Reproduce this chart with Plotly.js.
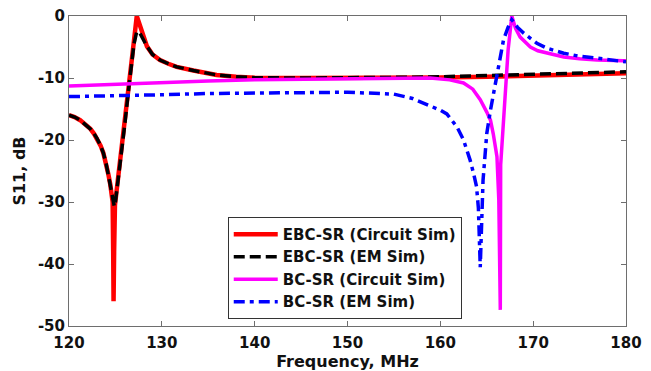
<!DOCTYPE html>
<html>
<head>
<meta charset="utf-8">
<script src="https://cdn.plot.ly/plotly-3.0.1.min.js"></script>
<style>html,body{margin:0;padding:0;background:#fff;}#chart{width:651px;height:371px;}</style>
</head>
<body>
<div id="chart"></div>
<script>
// EBC-SR (Circuit Sim)
var fEbcCirc = [120,120.6,121.2,121.7,122.3,122.7,123.0,123.4,123.7,124.0,124.25,124.45,124.6,124.7,124.76,124.8,124.86,124.95,125.1,125.5,126,126.5,127.0,127.3,127.6,128.0,128.4,129.0,129.8,130.7,131.6,133.4,135.9,138,140,145,150,155,160,165,170,175,180];
var sEbcCirc = [-16,-16.3,-16.8,-17.4,-18.2,-19,-19.7,-20.9,-22.1,-23.8,-25.6,-27.2,-28.4,-30,-38,-46,-38,-30.5,-28.6,-24.3,-17.6,-10.8,-4.0,0,-1.5,-3.3,-4.9,-6.2,-7.1,-7.7,-8.2,-8.8,-9.5,-9.8,-9.95,-10,-10,-9.95,-9.9,-9.8,-9.6,-9.4,-9.25];
// EBC-SR (EM Sim)
var fEbcEm = [120,120.6,121.2,121.7,122.3,122.7,123.0,123.4,123.7,124.0,124.25,124.45,124.6,124.75,124.88,125.0,125.5,126,126.5,127.0,127.3,127.65,128.0,128.4,129.0,129.8,130.7,131.6,133.4,135.9,138,140,145,150,155,160,165,170,175,180];
var sEbcEm = [-16,-16.3,-16.8,-17.4,-18.2,-19,-19.7,-20.9,-22.1,-23.8,-25.6,-27.2,-28.4,-29.8,-30.7,-30,-24.3,-17.6,-10.8,-4.5,-2.5,-2.8,-3.8,-4.9,-6.2,-7.1,-7.7,-8.2,-8.8,-9.5,-9.8,-9.95,-10,-10,-9.9,-9.8,-9.6,-9.4,-9.2,-9.0];
// BC-SR (Circuit Sim)
var fBcCirc = [120,125,130,135,140,145,150,155,158.9,161,162.5,163.5,164.3,165,165.4,165.7,166.1,166.3,166.42,166.46,166.5,167.0,167.3,167.7,168.1,168.6,169.1,169.7,170.5,171.5,173.3,175,176.9,179.7,180];
var sBcCirc = [-11.3,-11.0,-10.7,-10.5,-10.3,-10.2,-10.1,-10.0,-10,-10.3,-10.8,-11.8,-13.5,-15.5,-16.8,-19,-22.7,-29.7,-40,-47.4,-24,-11,-5.5,0,-2,-3.4,-4.2,-5,-5.6,-6,-6.6,-6.9,-7.1,-7.2,-7.2];
// BC-SR (EM Sim)
var fBcEm = [120,125,130,135,140,145,150,155,157,158.9,160,160.7,161.8,162.5,163.2,163.6,163.9,164.1,164.3,164.6,165.0,165.4,166.1,166.8,167.3,167.7,168.3,169,170.4,171.5,173.3,175,176.9,179.7,180];
var sBcEm = [-13,-12.9,-12.7,-12.5,-12.4,-12.3,-12.3,-12.6,-13.3,-14.5,-15.2,-15.8,-17.9,-20,-23.2,-25.5,-27.5,-31,-40.5,-26.5,-19,-15.2,-9.8,-3.9,-1.8,-0.6,-1.8,-2.8,-4.4,-5.2,-6,-6.5,-6.8,-7.4,-7.4];

var seriesNames = ['EBC-SR (Circuit Sim)','EBC-SR (EM Sim)','BC-SR (Circuit Sim)','BC-SR (EM Sim)'];
var xTickVals = [120,130,140,150,160,170,180];
var xTickText = ['120','130','140','150','160','170','180'];
var yTickVals = [0,-10,-20,-30,-40,-50];
var yTickText = ['0','-10','-20','-30','-40','-50'];

var FONT = {family:'DejaVu Sans, Arial, sans-serif', size:15, color:'#111111', weight:'bold'};
var TITLEFONT = {family:'DejaVu Sans, Arial, sans-serif', size:16, color:'#111111', weight:'bold'};

var traces = [
  {x:fEbcCirc, y:sEbcCirc, name:seriesNames[0], mode:'lines', line:{color:'#ff0000', width:4.5}},
  {x:fEbcEm, y:sEbcEm, name:seriesNames[1], mode:'lines', line:{color:'#000000', width:3.5, dash:'11px,5px'}},
  {x:fBcCirc, y:sBcCirc, name:seriesNames[2], mode:'lines', line:{color:'#ff00ff', width:3.5}},
  {x:fBcEm, y:sBcEm, name:seriesNames[3], mode:'lines', line:{color:'#0000ff', width:3.5, dash:'11px,5px,4px,5px'}}
];

var axisCommon = {
  showline:true, linecolor:'#6e6e6e', linewidth:1, mirror:'ticks',
  ticks:'inside', ticklen:5, tickcolor:'#6e6e6e', tickwidth:1,
  showgrid:false, zeroline:false, tickfont:FONT
};

var layout = {
  width:651, height:371,
  margin:{l:69, r:25, t:16, b:45},
  paper_bgcolor:'#ffffff', plot_bgcolor:'#ffffff',
  font:FONT,
  showlegend:true,
  legend:{x:0.285, y:0.352, xanchor:'left', yanchor:'top', bgcolor:'#ffffff', bordercolor:'#333333', borderwidth:1, font:FONT, tracegroupgap:0, itemwidth:44},
  xaxis:Object.assign({}, axisCommon, {range:[120,180], tickmode:'array', tickvals:xTickVals, ticktext:xTickText,
    ticklabelstandoff:3,
    title:{text:'Frequency, MHz', font:TITLEFONT, standoff:0}}),
  yaxis:Object.assign({}, axisCommon, {range:[-50,0], tickmode:'array', tickvals:yTickVals, ticktext:yTickText,
    title:{text:'S11, dB', font:TITLEFONT, standoff:8}})
};

Plotly.newPlot('chart', traces, layout, {displayModeBar:false, staticPlot:true});
</script>
</body>
</html>
